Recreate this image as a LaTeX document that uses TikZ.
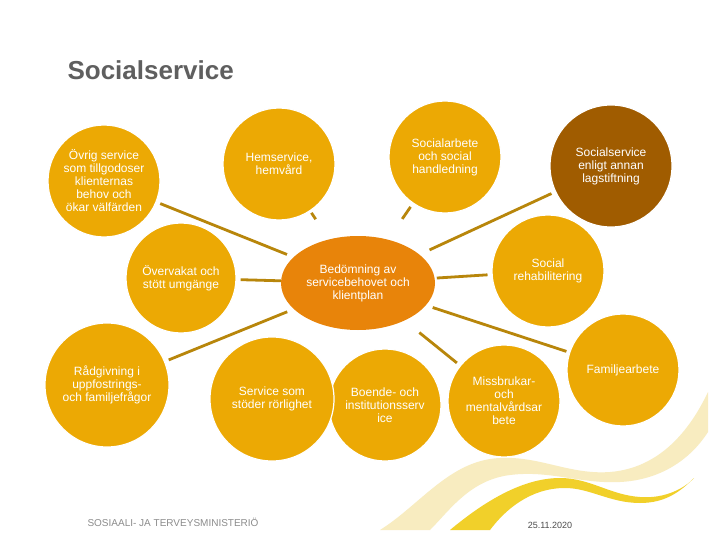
\documentclass[tikz,border=0pt]{standalone}
\usepackage{fontspec}
\setmainfont{Liberation Sans}
\usetikzlibrary{shapes.geometric}
\definecolor{cgold}{RGB}{236,169,4}
\definecolor{corange}{RGB}{232,132,10}
\definecolor{cbrown}{RGB}{160,92,0}
\definecolor{clink}{RGB}{184,134,11}
\definecolor{cgrey}{RGB}{95,95,95}
\definecolor{cpale}{RGB}{248,236,192}
\definecolor{cwave}{RGB}{241,208,42}
\tikzset{
  every picture/.style={x=1pt, y=-1pt},
  circ/.style={circle, draw=white, line width=1.2pt, fill=#1, text=white, align=center, inner sep=0pt,
    minimum size=112pt, font=\fontsize{12}{13}\selectfont},
  circ/.default=cgold,
  link/.style={draw=clink, line width=2.8pt, shorten <=4pt, shorten >=4pt},
  title/.style={font=\fontsize{26}{30}\selectfont\bfseries, text=cgrey},
  note/.style={font=\fontsize{10}{12}\selectfont, text=black!45},
}

\begin{document}
\begin{tikzpicture}
  \useasboundingbox[fill=white] (0,0) rectangle (720,540);
  % waves at the bottom
  \fill[cpale] (380,530) .. controls (420,505) and (450,460) .. (500,458) .. controls (540,456) and (570,475) .. (610,472)
    .. controls (660,468) and (690,430) .. (708,392) -- (708,432) .. controls (690,460) and (660,480) .. (620,482)
    .. controls (580,484) and (550,470) .. (510,475) .. controls (470,480) and (450,510) .. (430,530) -- cycle;
  \fill[cwave] (450,530) .. controls (480,505) and (520,478) .. (560,478) .. controls (590,478) and (610,495) .. (640,497)
    .. controls (665,499) and (685,488) .. (694,478) .. controls (680,492) and (665,503) .. (640,503)
    .. controls (610,503) and (590,488) .. (565,488) .. controls (530,488) and (505,510) .. (490,530) -- cycle;
  \node[title, anchor=west] (head) at (64,70) {Socialservice};
  % circles
  \node[circ] (ovrig) at (104,181) {Övrig service\\som tillgodoser\\klienternas\\behov och\\ökar välfärden};
  \node[circ] (hem) at (279,164) {Hemservice,\\hemvård};
  \node[circ] (socarb) at (445,157) {Socialarbete\\och social\\handledning};
  \node[circ=cbrown, minimum size=122pt] (annan) at (611,166) {Socialservice\\enligt annan\\lagstiftning};
  \node[circ, minimum size=110pt] (overv) at (181,278) {Övervakat och\\stött umgänge};
  \node[ellipse, fill=corange, text=white, align=center, inner sep=0pt, minimum width=154pt, minimum height=94pt,
    font=\fontsize{12}{13}\selectfont] (bed) at (358,283) {Bedömning av\\servicebehovet och\\klientplan};
  \node[circ] (rehab) at (548,271) {Social\\rehabilitering};
  \node[circ, minimum size=124pt] (radg) at (107,385) {Rådgivning i\\uppfostrings-\\och familjefrågor};
  \node[circ] (boende) at (385,405) {Boende- och\\institutionsserv\\ice};
  \node[circ, minimum size=124pt] (rorl) at (272,399) {Service som\\stöder rörlighet};
  \node[circ] (missbr) at (504,401) {Missbrukar-\\och\\mentalvårdsar\\bete};
  \node[circ] (famarb) at (623,370) {Familjearbete};
  % links to the assessment
  \draw[link, shorten >=7pt] (ovrig) -- (bed);
  \draw[link, shorten >=0pt] (overv) -- (bed);
  \draw[link, shorten >=7pt] (radg) -- (bed);
  \draw[link, shorten <=2pt, shorten >=24pt] (hem) -- (bed);
  \draw[link, shorten <=4pt, shorten >=25pt] (socarb) -- (bed);
  \draw[link, shorten >=11pt] (annan) -- (bed);
  \draw[link, shorten >=2pt] (rehab) -- (bed);
  \draw[link, shorten <=3pt, shorten >=7pt] (famarb) -- (bed);
  \draw[link, shorten <=19pt] (bed) -- (missbr);
  % footer
  \node[note, anchor=west] (dept) at (84,522) {SOSIAALI- JA TERVEYSMINISTERIÖ};
  \node[font=\fontsize{9}{11}\selectfont, text=black!70] (date) at (550,525) {25.11.2020};
\end{tikzpicture}
\end{document}
